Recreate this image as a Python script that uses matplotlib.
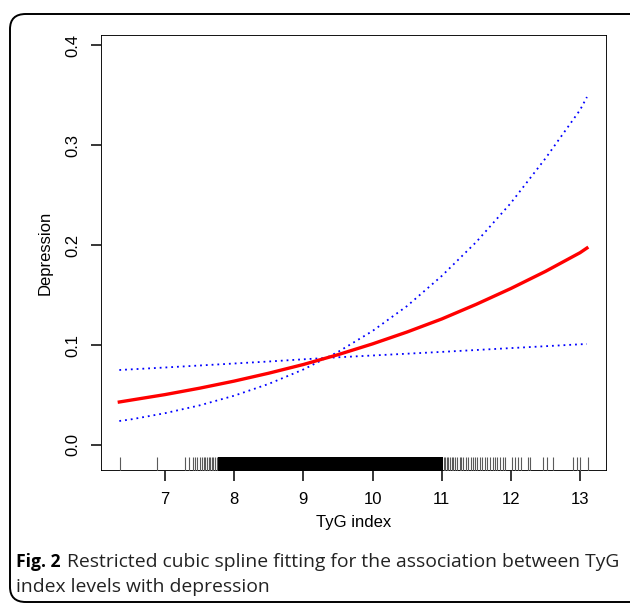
import numpy as np
import matplotlib.pyplot as plt
from matplotlib.patches import FancyBboxPatch

# 곡선 값
tyg = [6.34, 6.5, 7.0, 7.5, 8.0, 8.5, 9.0, 9.5, 10.0, 10.5, 11.0, 11.5, 12.0, 12.5, 13.0, 13.1]
fit = [0.043, 0.0448, 0.0504, 0.0568, 0.0639, 0.0718, 0.0805, 0.0903, 0.1011, 0.113,
       0.126, 0.1407, 0.1565, 0.1736, 0.1923, 0.197]
ci_steep = [0.024, 0.0255, 0.0318, 0.0396, 0.0493, 0.0611, 0.0755, 0.093, 0.114, 0.139,
            0.169, 0.203, 0.242, 0.2866, 0.335, 0.348]
ci_flat = [0.075, 0.0756, 0.0775, 0.0795, 0.0815, 0.0835, 0.0857, 0.0877, 0.0895, 0.0913,
           0.0931, 0.095, 0.0969, 0.0988, 0.1007, 0.101]

# rug 값
rug_sparse = [6.35, 6.89, 7.29, 7.35, 7.41, 7.44, 7.47, 7.505, 7.54, 7.56, 7.578, 7.61, 7.63,
              7.65, 7.68, 7.70, 7.73, 7.747,
              11.03, 11.046, 11.07, 11.094, 11.12, 11.143, 11.17, 11.19, 11.22, 11.26, 11.28,
              11.31, 11.35, 11.38, 11.42, 11.45, 11.48, 11.51, 11.55, 11.59, 11.63, 11.66,
              11.70, 11.74, 11.77, 11.80, 11.85, 11.89, 11.92,
              12.01, 12.06, 12.11, 12.15, 12.25, 12.27, 12.47, 12.52, 12.61,
              12.90, 12.95, 13.00, 13.12]
rug_dense = (7.77, 11.02)

xticks = [7, 8, 9, 10, 11, 12, 13]
yticks = [0.0, 0.1, 0.2, 0.3, 0.4]

plt.rcParams['font.family'] = ['Liberation Sans', 'DejaVu Sans']

fig = plt.figure(figsize=(6.3, 6.05), dpi=100)
ax = fig.add_axes([0.1603, 0.2215, 0.8032, 0.7206])

ax.plot(tyg, ci_steep, color='blue', lw=1.3, ls=(0, (1, 2.2)))
ax.plot(tyg, ci_flat, color='blue', lw=1.3, ls=(0, (1, 2.2)))
ax.plot(tyg, fit, color='red', lw=2.4)

# rug
ax.vlines(rug_sparse, 0, 0.032, color='#5a5a5a', lw=0.8, transform=ax.get_xaxis_transform())
ax.axvspan(rug_dense[0], rug_dense[1], ymin=0, ymax=0.032, color='black', lw=0)

ax.set_xlim(6.075, 13.39)
ax.set_ylim(-0.026, 0.41)

# R 스타일 축
for s in ax.spines.values():
    s.set_visible(False)
box = plt.Rectangle((0, 0), 1, 1, transform=ax.transAxes, fill=False, lw=1.3, color='black')
ax.add_patch(box)

ax.set_xticks(xticks)
ax.set_xticklabels([str(t) for t in xticks])
ax.set_yticks(yticks)
ax.set_yticklabels([f'{t:.1f}' for t in yticks], rotation=90, va='center')
ax.tick_params(axis='both', direction='out', length=7, width=1.1, labelsize=12, pad=8)

ax.set_xlabel('TyG index', fontsize=12, labelpad=6)
ax.set_ylabel('Depression', fontsize=12, labelpad=9)

# 캡션
cap_font = ['Open Sans', 'DejaVu Sans']
fig.text(16 / 630, 1 - 562 / 605, 'Fig. 2', fontsize=12.6, fontweight='bold',
         family=cap_font, va='center', ha='left')
fig.text(67 / 630, 1 - 562 / 605, 'Restricted cubic spline fitting for the association between TyG',
         fontsize=13.9, family=cap_font, va='center', ha='left', color='#222222')
fig.text(16 / 630, 1 - 587 / 605, 'index levels with depression',
         fontsize=13.9, family=cap_font, va='center', ha='left', color='#222222')

# 둥근 테두리
frame = FancyBboxPatch((10 / 630, 3 / 605), 640 / 630, 588 / 605,
                       boxstyle='round,pad=0,rounding_size=0.025',
                       transform=fig.transFigure, fill=False, lw=1.4, ec='black')
fig.patches.append(frame)

fig.savefig('out.png', dpi=100)
